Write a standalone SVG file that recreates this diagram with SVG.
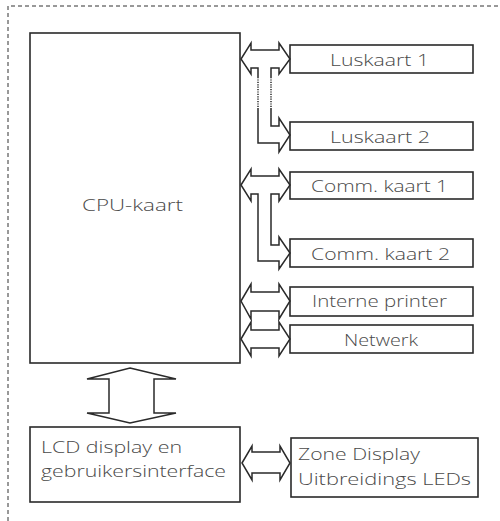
<svg xmlns="http://www.w3.org/2000/svg" width="500" height="521" viewBox="0 0 500 521">
<style>
.box{fill:#fff;stroke:#2a2a2a;stroke-width:1.6}
.arr{fill:#fff;stroke:#2a2a2a;stroke-width:1.5;stroke-linejoin:miter}
.ln{fill:none;stroke:#2a2a2a;stroke-width:1.5}
.dot{fill:none;stroke:#2a2a2a;stroke-width:1.5;stroke-dasharray:1.2 1.2}
.t{font-family:"Open Sans","Liberation Sans",sans-serif;font-size:16px;font-weight:300;fill:#4a4a4a}
</style>
<rect width="500" height="521" fill="#fff"/>
<path d="M8,521 V6 H500" fill="none" stroke="#333" stroke-width="1" stroke-dasharray="4 3"/>

<g id="cpu">
<rect class="box" x="30" y="33" width="210" height="330"/>
<text class="t" x="82" y="211" textLength="101" lengthAdjust="spacingAndGlyphs">CPU-kaart</text>
</g>
<g id="luskaart1">
<rect class="box" x="290" y="45" width="183" height="28"/>
<text class="t" x="330" y="66" textLength="99" lengthAdjust="spacingAndGlyphs">Luskaart 1</text>
</g>
<g id="luskaart2">
<rect class="box" x="290" y="122" width="183" height="28"/>
<text class="t" x="330" y="143" textLength="100" lengthAdjust="spacingAndGlyphs">Luskaart 2</text>
</g>
<g id="comm1">
<rect class="box" x="290" y="172" width="183" height="27"/>
<text class="t" x="311" y="192" textLength="137" lengthAdjust="spacingAndGlyphs">Comm. kaart 1</text>
</g>
<g id="comm2">
<rect class="box" x="290" y="239" width="183" height="28"/>
<text class="t" x="311" y="260" textLength="139" lengthAdjust="spacingAndGlyphs">Comm. kaart 2</text>
</g>
<g id="printer">
<rect class="box" x="290" y="287" width="183" height="29"/>
<text class="t" x="312" y="307" textLength="135" lengthAdjust="spacingAndGlyphs">Interne printer</text>
</g>
<g id="netwerk">
<rect class="box" x="290" y="325" width="183" height="28"/>
<text class="t" x="344" y="346" textLength="74" lengthAdjust="spacingAndGlyphs">Netwerk</text>
</g>
<g id="lcd">
<rect class="box" x="30" y="427" width="210" height="75"/>
<text class="t" x="41" y="453" textLength="141" lengthAdjust="spacingAndGlyphs">LCD display en</text>
<text class="t" x="41" y="477" textLength="185" lengthAdjust="spacingAndGlyphs">gebruikersinterface</text>
</g>
<g id="zone">
<rect class="box" x="291" y="438" width="187" height="59"/>
<text class="t" x="298" y="460" textLength="122" lengthAdjust="spacingAndGlyphs">Zone Display</text>
<text class="t" x="298" y="485" textLength="173" lengthAdjust="spacingAndGlyphs">Uitbreidings LEDs</text>
</g>

<g id="connectors">
<path d="M241,59 L251,43 V50 H279 V43 L290,59 L279,74 V68 H271 V126 H279 V118 L290,135 L279,152 V143 H258 V68 H251 V74 Z" fill="#fff" stroke="none"/>
<path class="ln" d="M258,77 V68 H251 V74 L241,59 L251,43 V50 H279 V43 L290,59 L279,74 V68 H271 V77"/>
<path class="ln" d="M271,108 V126 H279 V118 L290,135 L279,152 V143 H258 V108"/>
<path class="dot" d="M258,77 V108 M271,77 V108"/>
<path class="arr" d="M241,185 L251,169 V176 H279 V169 L290,185 L279,201 V194 H271 V245 H279 V237 L290,253 L279,269 V261 H258 V194 H251 V201 Z"/>
<path class="arr" d="M241,301 L251,284 V292 H279 V284 L290,301 L279,319 V311 H251 V319 Z"/>
<path class="arr" d="M241,339 L251,322 V330 H279 V322 L290,339 L279,356 V348 H251 V356 Z"/>
<path class="arr" d="M130,368 L176,379 H154 V413 H176 L130,423 L87,413 H109 V379 H87 Z"/>
<path class="arr" d="M242,463 L252,446 V452 H280 V446 L290,463 L280,480 V473 H252 V480 Z"/>
</g>
</svg>
